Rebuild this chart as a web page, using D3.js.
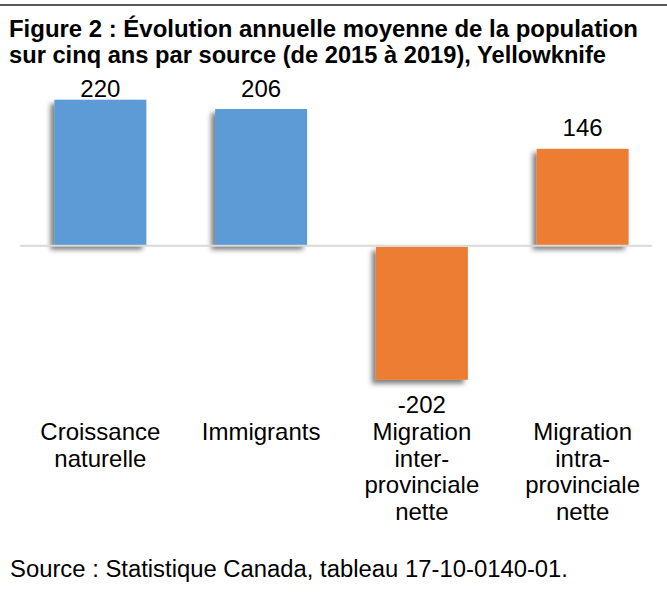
<!DOCTYPE html>
<html>
<head>
<meta charset="utf-8">
<script src="https://cdn.jsdelivr.net/npm/d3@7"></script>
<style>
  body { margin: 0; background: #fff; }
  svg { display: block; font-family: "Liberation Sans", Arial, sans-serif; }
</style>
</head>
<body>
<svg id="chart" width="667" height="598"></svg>
<script>
// chart data
var titleLines = [
  'Figure 2 : \u00c9volution annuelle moyenne de la population',
  'sur cinq ans par source (de 2015 \u00e0 2019), Yellowknife'
];
var categories = [
  ['Croissance', 'naturelle'],
  ['Immigrants'],
  ['Migration', 'inter-', 'provinciale', 'nette'],
  ['Migration', 'intra-', 'provinciale', 'nette']
];
var values = [220, 206, -202, 146];
var barColors = ['#5b9bd5', '#5b9bd5', '#ed7d31', '#ed7d31'];
var sourceNote = 'Source : Statistique Canada, tableau 17-10-0140-01.';

var width = 667, height = 598;
var svg = d3.select('#chart');

var defs = svg.append('defs');
var shadow = defs.append('filter')
  .attr('id', 'barShadow')
  .attr('x', '-20%').attr('y', '-20%')
  .attr('width', '140%').attr('height', '140%');
shadow.append('feDropShadow')
  .attr('dx', -4)
  .attr('dy', 4)
  .attr('stdDeviation', 2.5)
  .attr('flood-color', '#000')
  .attr('flood-opacity', 0.5);

// top rule
svg.append('line')
  .attr('x1', 0).attr('x2', width)
  .attr('y1', 5).attr('y2', 5)
  .attr('stroke', '#595959')
  .attr('stroke-width', 2);

// title
svg.append('g')
  .selectAll('text')
  .data(titleLines)
  .enter()
  .append('text')
  .attr('x', 9)
  .attr('y', function(d, i) { return 36.7 + i * 26.7; })
  .attr('font-size', 23)
  .attr('font-weight', 'bold')
  .attr('fill', '#000')
  .attr('textLength', function(d, i) { return i === 0 ? 629 : 597; })
  .attr('lengthAdjust', 'spacingAndGlyphs')
  .text(function(d) { return d; });

var x = d3.scaleBand()
  .domain(d3.range(values.length))
  .range([20, 663])
  .paddingInner(0.428)
  .paddingOuter(0.214);

var y = d3.scaleLinear()
  .domain([-250, 250])
  .range([411.6, 79.8]);

var plot = svg.append('g');

plot.selectAll('rect.bar')
  .data(values)
  .enter()
  .append('rect')
  .attr('class', 'bar')
  .attr('x', function(d, i) { return x(i); })
  .attr('width', x.bandwidth())
  .attr('y', function(d) { return d >= 0 ? y(d) : y(0) + 1; })
  .attr('height', function(d) { return Math.abs(y(d) - y(0)) - (d < 0 ? 1 : 0); })
  .attr('fill', function(d, i) { return barColors[i]; })
  .attr('filter', 'url(#barShadow)');

// zero line
plot.append('line')
  .attr('x1', 20).attr('x2', 652)
  .attr('y1', y(0)).attr('y2', y(0))
  .attr('stroke', '#d9d9d9')
  .attr('stroke-width', 2);

// value labels, kept inside the plot top like excel does
plot.selectAll('text.value')
  .data(values)
  .enter()
  .append('text')
  .attr('class', 'value')
  .attr('x', function(d, i) { return x(i) + x.bandwidth() / 2; })
  .attr('y', function(d) {
    return d >= 0 ? Math.max(y(d) - 13, y(250) + 17) : y(d) + 33;
  })
  .attr('text-anchor', 'middle')
  .attr('font-size', 24)
  .attr('fill', '#000')
  .text(function(d) { return d; });

// category labels
var catGroups = plot.selectAll('text.cat')
  .data(categories)
  .enter()
  .append('text')
  .attr('class', 'cat')
  .attr('text-anchor', 'middle')
  .attr('font-size', 24)
  .attr('fill', '#000');

catGroups.selectAll('tspan')
  .data(function(d, i) {
    return d.map(function(line) { return {line: line, i: i}; });
  })
  .enter()
  .append('tspan')
  .attr('x', function(d) { return x(d.i) + x.bandwidth() / 2; })
  .attr('y', function(d, j) { return y(-250) + 28.4 + j * 26.7; })
  .text(function(d) { return d.line; });

// source
svg.append('text')
  .attr('x', 10)
  .attr('y', 577.3)
  .attr('font-size', 23)
  .attr('fill', '#000')
  .attr('textLength', 558)
  .attr('lengthAdjust', 'spacingAndGlyphs')
  .text(sourceNote);
</script>
</body>
</html>
